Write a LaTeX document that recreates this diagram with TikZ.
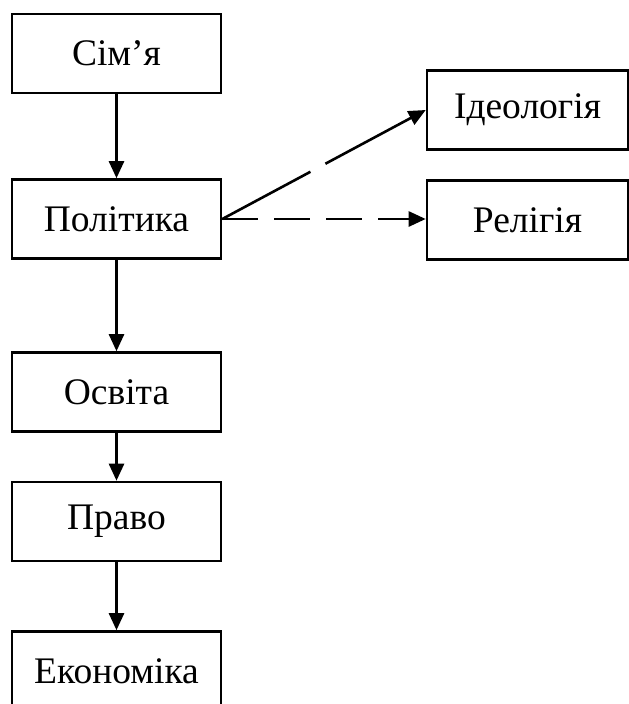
\documentclass[tikz,border=0pt]{standalone}
\usepackage{fontspec}
\setmainfont{Liberation Serif}
\usetikzlibrary{arrows.meta}
\begin{document}
\begin{tikzpicture}[x=1pt,y=-1pt,
  box/.style={draw,line width=2.6pt,minimum width=209pt,minimum height=79pt,inner sep=0pt,font=\fontsize{37.5}{44}\selectfont},
  conn/.style={line width=2.6pt,-{Triangle[length=17pt,width=15pt]}}]
\useasboundingbox (0,0) rectangle (629,704);
\node[box] (sim) at (116.5,53.5) {Сім’я};
\node[box] (pol) at (116.5,219) {Політика};
\node[box] (osv) at (116.5,392) {Освіта};
\node[box] (pra) at (116.5,521.5) {Право};
\node[box] (eko) at (116.5,671) {Економіка};
\node[box,minimum width=201pt] (ide) at (527.5,110) {Ідеологія};
\node[box,minimum width=201pt] (rel) at (527.5,220) {Релігія};
\draw[conn] (sim) -- (pol);
\draw[conn] (pol) -- (osv);
\draw[conn] (osv) -- (pra);
\draw[conn] (pra) -- (eko);
\draw[conn,dash pattern=on 100pt off 17pt] (pol.east) -- (ide.west);
\draw[conn,dash pattern=on 36pt off 16pt] (pol.east) -- (rel.west |- pol.east);
\end{tikzpicture}
\end{document}
